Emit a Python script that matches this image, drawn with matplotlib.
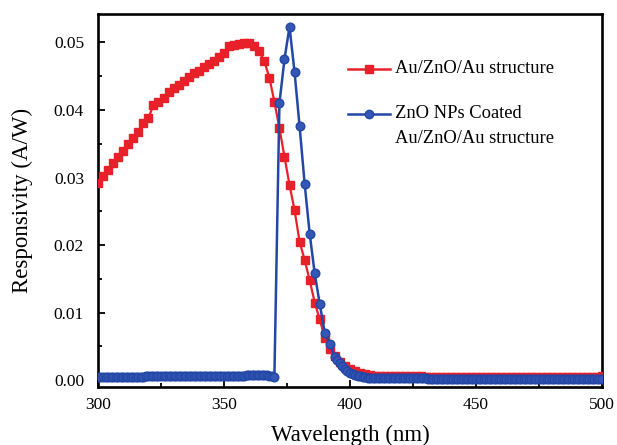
import numpy as np
import matplotlib.pyplot as plt
from matplotlib.ticker import MultipleLocator

# Au/ZnO/Au structure (red squares), 2 nm steps
wl_bare = np.arange(300, 502, 2)
resp_bare = [
    0.0292, 0.0302, 0.0311, 0.0321, 0.0331, 0.0340, 0.0349, 0.0359, 0.0368, 0.0380,
    0.0388, 0.0407, 0.0412, 0.0418, 0.0427, 0.0432, 0.0437, 0.0443, 0.0449, 0.0454,
    0.0458, 0.0463, 0.0468, 0.0472, 0.0478, 0.0484, 0.0494, 0.0496, 0.0497, 0.0499,
    0.0499, 0.0494, 0.0487, 0.0472, 0.0448, 0.0412, 0.0373, 0.0331, 0.0289, 0.0252,
    0.0205, 0.0178, 0.0148, 0.0115, 0.0090, 0.0063, 0.0047, 0.0036, 0.0027, 0.0021,
    0.0016, 0.0013, 0.0011, 0.0009, 0.0008, 0.0007, 0.0007, 0.0006, 0.0006, 0.0006,
    0.0006, 0.0006, 0.0006, 0.0006, 0.0006, 0.0005, 0.0005, 0.0005, 0.0005, 0.0005,
    0.0005, 0.0005, 0.0005, 0.0005, 0.0005, 0.0005, 0.0005, 0.0005, 0.0005, 0.0005,
    0.0005, 0.0005, 0.0005, 0.0005, 0.0005, 0.0005, 0.0005, 0.0005, 0.0005, 0.0005,
    0.0005, 0.0005, 0.0005, 0.0005, 0.0005, 0.0005, 0.0005, 0.0005, 0.0005, 0.0005,
    0.0006,
]

# ZnO NPs coated Au/ZnO/Au structure (blue circles):
# 1 nm below 370 nm and above 394 nm, 2 nm across the peak
wl_coated = np.concatenate([np.arange(300, 371), np.arange(372, 395, 2), np.arange(395, 501)])
resp_coated = [
    # 300 - 370 nm
    0.0005, 0.0005, 0.0005, 0.0005, 0.0005, 0.0005, 0.0005, 0.0005, 0.0005, 0.0005,
    0.0005, 0.0005, 0.0005, 0.0005, 0.0005, 0.0005, 0.0005, 0.0005, 0.0005, 0.0006,
    0.0007, 0.0007, 0.0007, 0.0007, 0.0007, 0.0007, 0.0007, 0.0007, 0.0007, 0.0007,
    0.0007, 0.0007, 0.0007, 0.0007, 0.0007, 0.0007, 0.0007, 0.0007, 0.0007, 0.0007,
    0.0007, 0.0007, 0.0007, 0.0007, 0.0007, 0.0007, 0.0007, 0.0007, 0.0007, 0.0007,
    0.0007, 0.0007, 0.0007, 0.0007, 0.0007, 0.0007, 0.0007, 0.0007, 0.0007, 0.0008,
    0.0008, 0.0008, 0.0008, 0.0008, 0.0008, 0.0008, 0.0008, 0.0008, 0.0007, 0.0006,
    0.0005,
    # 372 - 394 nm
    0.0410, 0.0475, 0.0523, 0.0456, 0.0376, 0.0291, 0.0217, 0.0158, 0.0113, 0.0070,
    0.0054, 0.0035,
    # 395 - 500 nm
    0.0030, 0.0025, 0.0021, 0.0017, 0.0014, 0.0011, 0.0010, 0.0008, 0.0007, 0.0006,
    0.0005, 0.0005, 0.0004, 0.0004, 0.0004, 0.0003, 0.0003, 0.0003, 0.0003, 0.0003,
    0.0003, 0.0003, 0.0003, 0.0003, 0.0003, 0.0003, 0.0003, 0.0003, 0.0003, 0.0003,
    0.0003, 0.0003, 0.0003, 0.0003, 0.0003, 0.0003, 0.0002, 0.0002, 0.0002, 0.0002,
    0.0002, 0.0002, 0.0002, 0.0002, 0.0002, 0.0002, 0.0002, 0.0002, 0.0002, 0.0002,
    0.0002, 0.0002, 0.0002, 0.0002, 0.0002, 0.0002, 0.0002, 0.0002, 0.0002, 0.0002,
    0.0002, 0.0002, 0.0002, 0.0002, 0.0002, 0.0002, 0.0002, 0.0002, 0.0002, 0.0002,
    0.0002, 0.0002, 0.0002, 0.0002, 0.0002, 0.0002, 0.0002, 0.0002, 0.0002, 0.0002,
    0.0002, 0.0002, 0.0002, 0.0002, 0.0002, 0.0002, 0.0002, 0.0002, 0.0002, 0.0002,
    0.0002, 0.0002, 0.0002, 0.0002, 0.0002, 0.0002, 0.0002, 0.0002, 0.0002, 0.0002,
    0.0002, 0.0002, 0.0002, 0.0002, 0.0002, 0.0002,
]

label_bare = 'Au/ZnO/Au structure'
label_coated = ['ZnO NPs Coated', 'Au/ZnO/Au structure']

RED = '#e8202a'
BLUE = '#2347a6'
BLUE_FILL = '#3456b4'

plt.rcParams['font.family'] = ['Liberation Serif', 'DejaVu Serif']

fig = plt.figure(figsize=(6.17, 4.45), dpi=100)
ax = fig.add_axes([0.1588, 0.1303, 0.8169, 0.8382])

ax.plot(wl_bare, resp_bare, '-s', color=RED, lw=1.6, ms=5.2,
        mfc=RED, mec=RED, zorder=3)
ax.plot(wl_coated, resp_coated, '-o', color=BLUE, lw=1.8, ms=6.2,
        mfc=BLUE_FILL, mec=BLUE, zorder=4)

ax.set_xlim(300, 500)
ax.set_ylim(-0.001, 0.0542)
ax.xaxis.set_major_locator(MultipleLocator(50))
ax.xaxis.set_minor_locator(MultipleLocator(25))
ax.yaxis.set_major_locator(MultipleLocator(0.01))
ax.yaxis.set_minor_locator(MultipleLocator(0.005))
ax.yaxis.set_major_formatter(plt.FuncFormatter(lambda v, p: '%.2f' % v))

ax.tick_params(which='both', direction='in', top=False, right=False,
               labelsize=12.5, width=1.3)
ax.tick_params(which='major', length=5)
ax.tick_params(which='minor', length=3)
ax.tick_params(axis='y', pad=10)
ax.tick_params(axis='x', pad=7)
for s in ax.spines.values():
    s.set_linewidth(1.9)

ax.set_xlabel('Wavelength (nm)', fontsize=16.5, labelpad=9)
ax.set_ylabel('Responsivity (A/W)', fontsize=16.5, labelpad=15)

# hand-placed legend, handle aligned with the first text line
tr = ax.transAxes
line_step = 0.067
for y, col, mk, fc, lab in [(0.853, RED, 's', RED, [label_bare]),
                            (0.732, BLUE, 'o', BLUE_FILL, label_coated)]:
    ax.plot([0.496, 0.579], [y, y], color=col, lw=1.8, transform=tr, clip_on=False)
    ax.plot([0.5375], [y], marker=mk, color=col, mfc=fc, ms=5.5 if mk == 's' else 6,
            transform=tr, clip_on=False)
    for i, txt in enumerate(lab):
        ax.text(0.59, y - i * line_step, txt, transform=tr, fontsize=13.3,
                va='center', ha='left')

fig.savefig('out.png', dpi=100)
